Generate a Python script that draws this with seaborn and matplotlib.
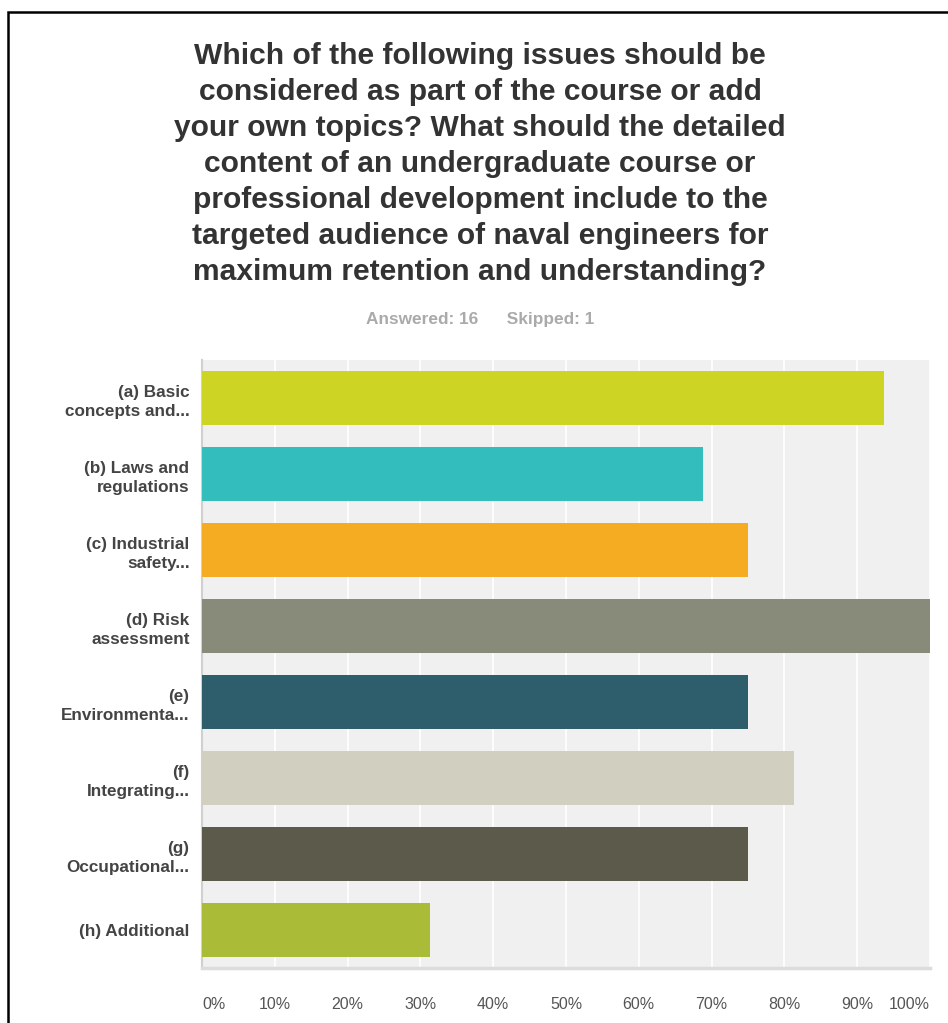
import matplotlib
matplotlib.use("Agg")
import matplotlib.pyplot as plt
import seaborn as sns
import pandas as pd
from matplotlib.patches import Rectangle

categories = [
    "(a) Basic\nconcepts and...",
    "(b) Laws and\nregulations",
    "(c) Industrial\nsafety...",
    "(d) Risk\nassessment",
    "(e)\nEnvironmenta...",
    "(f)\nIntegrating...",
    "(g)\nOccupational...",
    "(h) Additional",
]
percent = [93.75, 68.75, 75.0, 100.0, 75.0, 81.25, 75.0, 31.25]
colors = ["#cdd424", "#33bdbd", "#f5ab22", "#888a7a",
          "#2e5e6b", "#d1cfc0", "#5b5a4b", "#a9bb37"]
tick_values = list(range(0, 101, 10))
tick_labels = [f"{v}%" for v in tick_values]

title = ("Which of the following issues should be\n"
         "considered as part of the course or add\n"
         "your own topics? What should the detailed\n"
         "content of an undergraduate course or\n"
         "professional development include to the\n"
         "targeted audience of naval engineers for\n"
         "maximum retention and understanding?")
subtitle = "Answered: 16      Skipped: 1"

sns.set_theme(style="white")
plt.rcParams["font.family"] = ["Liberation Sans", "DejaVu Sans"]

df = pd.DataFrame({"topic": categories, "pct": percent})

W, H = 948, 1023
fig = plt.figure(figsize=(W / 100, H / 100), dpi=100)
ax = fig.add_axes([202 / W, 1 - 968 / H, 728 / W, 608 / H])
ax.set_facecolor("#f0f0f0")

sns.barplot(data=df, x="pct", y="topic", hue="topic", palette=colors,
            orient="h", width=0.71, legend=False, ax=ax, zorder=3,
            saturation=1, linewidth=0)

ax.set_xlim(0, 100)
ax.set_ylim(len(categories) - 0.5, -0.5)
ax.set_xticks(tick_values)
ax.set_xticklabels(tick_labels)
ax.xaxis.grid(True, color="white", linewidth=1.2, zorder=1)
ax.set_axisbelow(True)
ax.set_xlabel("")
ax.set_ylabel("")
ax.tick_params(axis="x", length=0, pad=21, labelsize=11.5, labelcolor="#555555")
ax.tick_params(axis="y", length=0, pad=9, labelsize=12.3)
for lbl in ax.get_yticklabels():
    lbl.set_fontweight("bold")
    lbl.set_color("#444444")
    lbl.set_horizontalalignment("right")
    lbl.set_multialignment("right")
    lbl.set_linespacing(1.4)
xt = ax.get_xticklabels()
xt[0].set_horizontalalignment("left")
xt[-1].set_horizontalalignment("right")

for s in ["top", "right"]:
    ax.spines[s].set_visible(False)
ax.spines["left"].set_color("#d0d0d0")
ax.spines["left"].set_linewidth(1.5)
ax.spines["bottom"].set_color("#dcdcdc")
ax.spines["bottom"].set_linewidth(2.5)

fig.text(480 / W, 1 - 164 / H, title, ha="center", va="center",
         fontsize=21.6, fontweight="bold", color="#333333", linespacing=1.37)
fig.text(480 / W, 1 - 320 / H, subtitle, ha="center", va="center",
         fontsize=12.4, fontweight="bold", color="#aaaaaa")

fig.patches.append(Rectangle((8 / W, -0.05), 1.0, 1 - 12 / H + 0.05,
                             transform=fig.transFigure, fill=False,
                             edgecolor="black", linewidth=1.8))

fig.savefig("out.png", dpi=100)
